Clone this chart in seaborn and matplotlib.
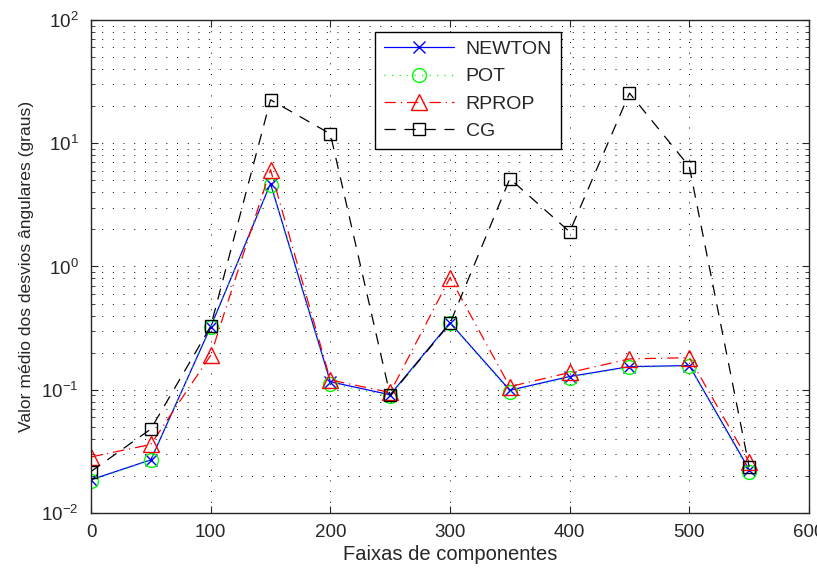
"""Mean angular deviation per component range (log scale)"""
import numpy as np
import pandas as pd
import matplotlib
matplotlib.use("Agg")
import matplotlib.pyplot as plt
import seaborn as sns
from matplotlib.ticker import LogLocator, MultipleLocator

# Data
faixas = [0, 50, 100, 150, 200, 250, 300, 350, 400, 450, 500, 550]
newton = [0.0186, 0.027, 0.324, 4.7, 0.116, 0.091, 0.35, 0.099, 0.128, 0.154, 0.157, 0.0225]
pot = [0.0183, 0.0268, 0.322, 4.6, 0.112, 0.089, 0.345, 0.096, 0.125, 0.152, 0.155, 0.0215]
rprop = [0.0285, 0.036, 0.19, 6.1, 0.12, 0.095, 0.81, 0.106, 0.138, 0.178, 0.182, 0.026]
cg = [0.0217, 0.048, 0.327, 22.5, 11.9, 0.09, 0.345, 5.15, 1.91, 25.5, 6.45, 0.0237]

series = {"NEWTON": newton, "POT": pot, "RPROP": rprop, "CG": cg}
styles = {
    "NEWTON": dict(color="blue", linestyle="-", marker="x", markersize=8),
    "POT": dict(color="#00ff00", linestyle=(0, (1, 5)), marker="o", markersize=10),
    "RPROP": dict(color="red", linestyle=(0, (9, 4, 1, 4)), marker="^", markersize=11),
    "CG": dict(color="black", linestyle=(0, (9, 7)), marker="s", markersize=9),
}

df = pd.DataFrame({"faixa": faixas, **series})

sns.set_style("ticks")
plt.rcParams["font.family"] = ["Liberation Sans", "DejaVu Sans"]
plt.rcParams["mathtext.fontset"] = "custom"
plt.rcParams["mathtext.rm"] = "Liberation Sans"
plt.rcParams["xtick.direction"] = "in"
plt.rcParams["ytick.direction"] = "in"

fig = plt.figure(figsize=(8.17, 5.70), dpi=100)
ax = fig.add_axes([0.1114, 0.10, 0.8788, 0.865])

for name in series:
    st = styles[name]
    sns.lineplot(data=df, x="faixa", y=name, ax=ax, label=name,
                 color=st["color"], linestyle=st["linestyle"], linewidth=0.9,
                 marker=st["marker"], markersize=st["markersize"],
                 markerfacecolor="none", markeredgecolor=st["color"],
                 markeredgewidth=1.0)

ax.set_yscale("log")
ax.set_xlim(0, 600)
ax.set_ylim(1e-2, 1e2)
ax.xaxis.set_major_locator(MultipleLocator(100))
ax.yaxis.set_major_locator(LogLocator(base=10, numticks=10))
ax.yaxis.set_minor_locator(LogLocator(base=10, subs=np.arange(2, 10), numticks=20))

grid_ls = (0, (1, 10))
ax.grid(True, which="major", axis="both", color="black", linestyle=grid_ls, linewidth=0.7)
ax.grid(True, which="minor", axis="y", color="black", linestyle=grid_ls, linewidth=0.7)

ax.tick_params(which="both", top=True, right=True, labelsize=13.5)
ax.tick_params(which="major", length=5)
ax.tick_params(which="minor", length=3)
ax.tick_params(axis="x", pad=8)
ax.tick_params(axis="y", pad=9)
for s in ax.spines.values():
    s.set_linewidth(1.0)

ax.set_xlabel("Faixas de componentes", fontsize=14.5, labelpad=3)
ax.set_ylabel("Valor médio dos desvios ângulares (graus)", fontsize=12.6, labelpad=5)

leg = ax.legend(loc="upper left", bbox_to_anchor=(0.396, 0.976), borderaxespad=0,
                fontsize=14, handlelength=3.6, frameon=True, fancybox=False,
                borderpad=0.45, labelspacing=0.5, handletextpad=0.6)
leg.get_frame().set_edgecolor("black")
leg.get_frame().set_linewidth(1.0)
leg.get_frame().set_alpha(1)

fig.savefig("out.png", dpi=100)
print("saved out.png")
